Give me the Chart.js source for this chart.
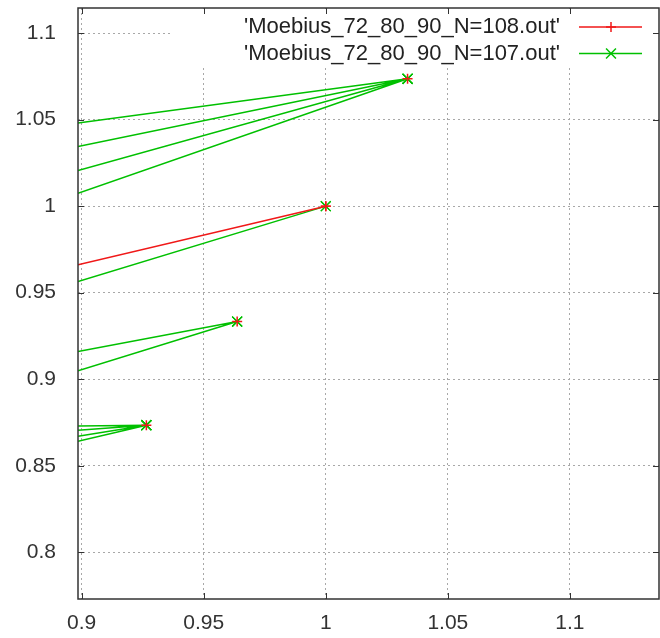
<!DOCTYPE html>
<html>
<head>
<meta charset="utf-8">
<script src="https://cdn.jsdelivr.net/npm/chart.js@4"></script>
<style>
  html, body { margin: 0; padding: 0; background: #fff; }
  #wrap { width: 660px; height: 638px; }
</style>
</head>
<body>
<div id="wrap"><canvas id="myChart" width="660" height="638"></canvas></div>
<script>
// axis ticks
const xTicks = [0.9, 0.95, 1, 1.05, 1.1];
const yTicks = [0.8, 0.85, 0.9, 0.95, 1, 1.05, 1.1];

// left edge of the plotted x range; lines run off to it
const EDGE_X = 0.8985;

// fixed points shared by both runs
const hubX = [0.9265, 0.9637, 1.0, 1.0335];
const hubY = [0.8734, 0.9333, 1.0, 1.0736];

// y where each line leaves the plot at the left edge, per hub
const redEdgeY = [[], [], [0.9661], []];
const greenEdgeY = [
    [0.8730, 0.8705, 0.8670, 0.8641],
    [0.9160, 0.9048],
    [0.9564],
    [1.0480, 1.0344, 1.0206, 1.0075],
];

const labels = ["'Moebius_72_80_90_N=108.out'", "'Moebius_72_80_90_N=107.out'"];

const RED = "#f01818";
const GREEN = "#00c000";
const FONT = "Liberation Sans";

// hub -> edge segments, broken with null so they don't join up
function buildPath(edgeY) {
    const pts = [];
    hubX.forEach(function (hx, i) {
        pts.push({ x: hx, y: hubY[i] });
        edgeY[i].forEach(function (ey) {
            pts.push({ x: EDGE_X, y: ey });
            pts.push({ x: hx, y: null });
            pts.push({ x: hx, y: hubY[i] });
        });
        pts.push({ x: hx, y: null });
    });
    return pts;
}

function markerSize(r) {
    return function (ctx) {
        return ctx.raw && ctx.raw.x > EDGE_X ? r : 0;
    };
}

// white key box, drawn over the grid
const keyBox = {
    id: "keyBox",
    beforeDatasetsDraw(chart) {
        const c = chart.ctx;
        const a = chart.chartArea;
        c.save();
        c.fillStyle = "#fff";
        c.fillRect(172, a.top + 1, 482, 57);
        c.restore();
    },
    afterDatasetsDraw(chart) {
        const c = chart.ctx;
        const a = chart.chartArea;
        // frame with inward ticks
        c.save();
        c.strokeStyle = "#333";
        c.lineWidth = 1.5;
        c.strokeRect(a.left, a.top, a.right - a.left, a.bottom - a.top);
        c.lineWidth = 1;
        c.beginPath();
        const xs = chart.scales.x, ys = chart.scales.y;
        xTicks.forEach(function (v) {
            const px = Math.round(xs.getPixelForValue(v)) + 0.5;
            c.moveTo(px, a.bottom); c.lineTo(px, a.bottom - 6);
            c.moveTo(px, a.top); c.lineTo(px, a.top + 6);
        });
        yTicks.forEach(function (v) {
            const py = Math.round(ys.getPixelForValue(v)) + 0.5;
            c.moveTo(a.left, py); c.lineTo(a.left + 6, py);
            c.moveTo(a.right, py); c.lineTo(a.right - 6, py);
        });
        c.stroke();

        // key entries
        c.font = "22px '" + FONT + "'";
        c.fillStyle = "#222";
        c.textAlign = "right";
        c.textBaseline = "middle";
        const rows = [
            { y: 27, color: RED, style: "cross", r: 5 },
            { y: 53.5, color: GREEN, style: "crossRot", r: 7 },
        ];
        rows.forEach(function (row, i) {
            c.fillText(labels[i], 560, row.y);
            c.strokeStyle = row.color;
            c.lineWidth = 1.5;
            c.beginPath();
            c.moveTo(579, row.y); c.lineTo(642, row.y);
            c.stroke();
            Chart.helpers.drawPoint(c, { pointStyle: row.style, radius: row.r, borderWidth: 1.5 }, 611, row.y);
        });
        c.restore();
    },
};

const ctx1 = document.getElementById("myChart").getContext("2d");
const myChart = new Chart(ctx1, {
    type: "scatter",
    data: {
        datasets: [
            {
                label: labels[0],
                data: buildPath(redEdgeY),
                showLine: true,
                spanGaps: false,
                borderColor: RED,
                borderWidth: 1.5,
                pointStyle: "cross",
                pointRadius: markerSize(5),
                pointHoverRadius: 0,
                pointBorderColor: RED,
                pointBorderWidth: 1.5,
            },
            {
                label: labels[1],
                data: buildPath(greenEdgeY),
                showLine: true,
                spanGaps: false,
                borderColor: GREEN,
                borderWidth: 1.5,
                pointStyle: "crossRot",
                pointRadius: markerSize(7),
                pointHoverRadius: 0,
                pointBorderColor: GREEN,
                pointBorderWidth: 1.2,
            },
        ],
    },
    options: {
        responsive: false,
        animation: false,
        layout: { autoPadding: false, padding: { top: 8, right: 1 } },
        plugins: {
            legend: { display: false },
            tooltip: { enabled: false },
        },
        scales: {
            x: {
                type: "linear",
                min: EDGE_X,
                max: 1.1365,
                afterBuildTicks: function (s) { s.ticks = xTicks.map(function (v) { return { value: v }; }); },
                afterFit: function (s) { s.height = 39; s.paddingLeft = 0; s.paddingRight = 0; },
                border: { display: false, dash: [2, 3] },
                grid: { color: "#a8a8a8", drawTicks: false },
                ticks: {
                    padding: 12,
                    color: "#333",
                    font: { family: FONT, size: 21 },
                    callback: function (v) { return String(v); },
                },
            },
            y: {
                type: "linear",
                min: 0.773,
                max: 1.1145,
                afterBuildTicks: function (s) { s.ticks = yTicks.map(function (v) { return { value: v }; }); },
                // label padding shouldn't push the plot area down
                afterFit: function (s) { s.width = 78; s.paddingTop = 0; s.paddingBottom = 0; },
                border: { display: false, dash: [2, 3] },
                grid: { color: "#a8a8a8", drawTicks: false },
                ticks: {
                    padding: 22,
                    color: "#333",
                    font: { family: FONT, size: 21 },
                    callback: function (v) { return String(v); },
                },
            },
        },
    },
    plugins: [keyBox],
});
</script>
</body>
</html>
